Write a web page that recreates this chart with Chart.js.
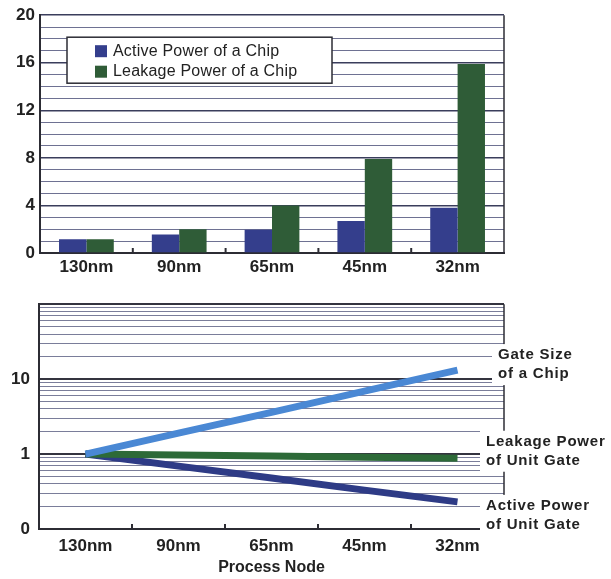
<!DOCTYPE html>
<html>
<head>
<meta charset="utf-8">
<title>Power vs Process Node</title>
<script src="https://cdn.jsdelivr.net/npm/chart.js@4.4.1/dist/chart.umd.min.js"></script>
<style>
  body { margin: 0; background: #fff; }
  .panel { position: absolute; left: 0; width: 611px; }
</style>
</head>
<body>
<div class="panel" style="top:0;height:285px"><canvas id="chipChart" width="611" height="285"></canvas></div>
<div class="panel" style="top:285px;height:294px"><canvas id="gateChart" width="611" height="294"></canvas></div>
<script>
// categories shared by both charts
const nodes = ["130nm", "90nm", "65nm", "45nm", "32nm"];

// top chart: power of a chip
const activeChip = [1.15, 1.55, 1.95, 2.7, 3.8];
const leakageChip = [1.15, 2.0, 4.0, 7.9, 15.9];
const chipLabels = ["Active Power of a Chip", "Leakage Power of a Chip"];
const chipTickStep = 4;

// bottom chart: relative trends (log scale)
const gateSize = [1, 1.9, 3.6, 6.9, 13.2];
const leakageGate = [1, 0.97, 0.94, 0.91, 0.88];
const activeGate = [1, 0.69, 0.48, 0.33, 0.23];
const gateLabels = [
  ["Gate Size", "of a Chip"],
  ["Leakage Power", "of Unit Gate"],
  ["Active Power", "of Unit Gate"],
];
const logTickLabels = { 0.1: "0", 1: "1", 10: "10" };

const COLORS = {
  activeBar: "#343e8c",
  leakBar: "#2f5c37",
  gate: "#4a88d4",
  leakLine: "#2d6a38",
  activeLine: "#2e3b86",
  text: "#222",
  axis: "#2c2c34",
};

Chart.defaults.font.family = "'Liberation Sans', Arial, sans-serif";
Chart.defaults.color = COLORS.text;

// small inward tick marks between categories, plus right border
const framePlugin = {
  id: "frame",
  afterDraw(chart) {
    const { ctx, chartArea } = chart;
    const x = chart.scales.x;
    ctx.save();
    ctx.strokeStyle = COLORS.axis;
    ctx.lineWidth = 1.5;
    ctx.beginPath();
    ctx.moveTo(chartArea.right, chartArea.top);
    ctx.lineTo(chartArea.right, chartArea.bottom);
    ctx.stroke();
    ctx.lineWidth = 2;
    for (let i = 0; i < nodes.length - 1; i++) {
      const px = (x.getPixelForValue(i) + x.getPixelForValue(i + 1)) / 2;
      ctx.beginPath();
      ctx.moveTo(px, chartArea.bottom);
      ctx.lineTo(px, chartArea.bottom - 5);
      ctx.stroke();
    }
    ctx.restore();
  },
};

// boxed legend inside the plot of the bar chart
const boxLegendPlugin = {
  id: "boxLegend",
  afterDraw(chart) {
    const { ctx, chartArea } = chart;
    const bx = chartArea.left + 27;
    const by = chartArea.top + 22;
    ctx.save();
    ctx.fillStyle = "#fff";
    ctx.fillRect(bx, by, 265, 46);
    ctx.strokeStyle = COLORS.axis;
    ctx.lineWidth = 1.5;
    ctx.strokeRect(bx, by, 265, 46);
    ctx.font = "16px 'Liberation Sans', Arial, sans-serif";
    ctx.letterSpacing = "0.2px";
    ctx.textBaseline = "middle";
    ctx.textAlign = "left";
    chart.data.datasets.forEach((ds, i) => {
      const cy = by + 14 + i * 20.5;
      ctx.fillStyle = ds.backgroundColor;
      ctx.fillRect(bx + 28, cy - 6, 12, 12);
      ctx.fillStyle = COLORS.text;
      ctx.fillText(ds.label, bx + 46, cy);
    });
    ctx.restore();
  },
};

// text labels at the right end of each line, on a white patch
const lineLabelPlugin = {
  id: "lineLabels",
  afterDraw(chart) {
    const { ctx, chartArea } = chart;
    const y = chart.scales.y;
    const shifts = [-5.5, -7, 13.5];
    const lefts = [-6, -18, -18];
    ctx.save();
    ctx.font = "bold 15px 'Liberation Sans', Arial, sans-serif";
    ctx.letterSpacing = "0.8px";
    ctx.textBaseline = "middle";
    ctx.textAlign = "left";
    chart.data.datasets.forEach((ds, i) => {
      const last = ds.data[ds.data.length - 1];
      const cy = y.getPixelForValue(last) + shifts[i];
      const tx = chartArea.right + lefts[i];
      ctx.fillStyle = "#fff";
      ctx.fillRect(tx - 6, cy - 20.5, chart.width - tx + 6, 41);
      ctx.fillStyle = COLORS.text;
      gateLabels[i].forEach((line, k) => ctx.fillText(line, tx, cy - 9.5 + k * 19));
    });
    ctx.restore();
  },
};

new Chart(document.getElementById("chipChart"), {
  type: "bar",
  data: {
    labels: nodes,
    datasets: [
      { label: chipLabels[0], data: activeChip, backgroundColor: COLORS.activeBar },
      { label: chipLabels[1], data: leakageChip, backgroundColor: COLORS.leakBar },
    ],
  },
  options: {
    responsive: false,
    animation: false,
    devicePixelRatio: 1,
    layout: { padding: { left: 0, right: 107, top: 15, bottom: 0 } },
    datasets: { bar: { categoryPercentage: 0.59, barPercentage: 1.0, borderWidth: 0 } },
    plugins: { legend: { display: false }, tooltip: { enabled: false } },
    scales: {
      x: {
        grid: { display: false, drawTicks: false },
        border: { color: COLORS.axis, width: 2 },
        ticks: { font: { size: 17, weight: "bold" }, padding: 4, color: COLORS.text },
        afterFit: (s) => { s.height = 32; },
      },
      y: {
        min: 0,
        max: 20,
        border: { color: COLORS.axis, width: 2 },
        grid: {
          drawTicks: false,
          color: (c) => (c.tick && c.tick.value % chipTickStep === 0 ? "#3a3d5c" : "#6e7192"),
          lineWidth: (c) => (c.tick && c.tick.value % chipTickStep === 0 ? 1.6 : 1),
        },
        ticks: {
          stepSize: 1,
          autoSkip: false,
          padding: 5,
          font: { size: 17, weight: "bold" },
          color: COLORS.text,
          callback: (v) => (v % chipTickStep === 0 ? String(v) : ""),
        },
        afterFit: (s) => { s.width = 40; },
      },
    },
  },
  plugins: [framePlugin, boxLegendPlugin],
});

const isWhole = (v) => {
  const m = v / Math.pow(10, Math.floor(Math.log10(v) + 1e-9));
  return Math.abs(m - Math.round(m)) < 1e-6;
};
const isDecade = (v) => Math.abs(Math.log10(v) - Math.round(Math.log10(v))) < 1e-6;

new Chart(document.getElementById("gateChart"), {
  type: "line",
  data: {
    labels: nodes,
    datasets: [
      { label: gateLabels[0].join(" "), data: gateSize, borderColor: COLORS.gate },
      { label: gateLabels[1].join(" "), data: leakageGate, borderColor: COLORS.leakLine },
      { label: gateLabels[2].join(" "), data: activeGate, borderColor: COLORS.activeLine },
    ],
  },
  options: {
    responsive: false,
    animation: false,
    devicePixelRatio: 1,
    layout: { padding: { left: 0, right: 107, top: 11, bottom: 0 } },
    datasets: { line: { borderWidth: 7, pointRadius: 0, tension: 0, borderCapStyle: "butt" } },
    plugins: { legend: { display: false }, tooltip: { enabled: false } },
    scales: {
      x: {
        offset: true,
        grid: { display: false, drawTicks: false },
        border: { color: COLORS.axis, width: 2 },
        ticks: { font: { size: 17, weight: "bold" }, padding: 7, color: COLORS.text },
        title: {
          display: true,
          text: "Process Node",
          font: { size: 16, weight: "bold" },
          color: COLORS.text,
          padding: { top: 0, bottom: 2 },
        },
        afterFit: (s) => { s.height = 50; },
      },
      y: {
        type: "logarithmic",
        min: 0.1,
        max: 100,
        border: { color: COLORS.axis, width: 2 },
        grid: {
          drawTicks: false,
          color: (c) => (c.tick && isDecade(c.tick.value) ? "#34343f" : "#7a7d9a"),
          lineWidth: (c) => (c.tick && isDecade(c.tick.value) ? 2 : 1),
        },
        afterBuildTicks: (s) => { s.ticks = s.ticks.filter((t) => isWhole(t.value)); },
        ticks: {
          autoSkip: false,
          padding: 9,
          font: { size: 17, weight: "bold" },
          color: COLORS.text,
          callback: (v) => logTickLabels[v] ?? "",
        },
        afterFit: (s) => { s.width = 39; },
      },
    },
  },
  plugins: [framePlugin, lineLabelPlugin],
});
</script>
</body>
</html>
